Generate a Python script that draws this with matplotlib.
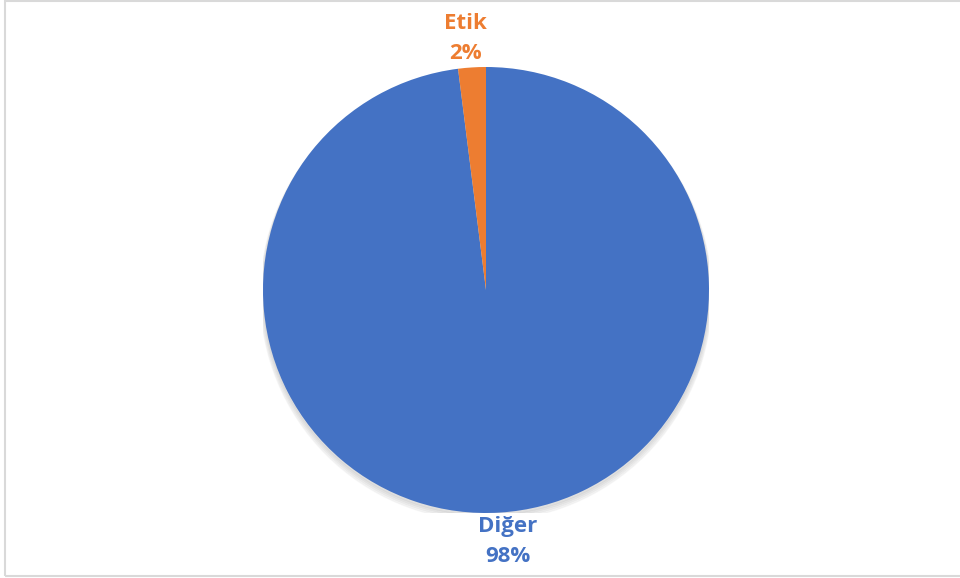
import matplotlib
matplotlib.use("Agg")
import matplotlib.pyplot as plt
from matplotlib.patches import Rectangle
import numpy as np

categories = ["Diğer", "Etik"]
values = [98, 2]
colors = ["#4472C4", "#ED7D31"]

W, H = 960, 578
fig = plt.figure(figsize=(W / 100, H / 100), dpi=100)
fig.patch.set_facecolor("white")

# border
fig.add_artist(Rectangle((5 / W, 2 / H), (W + 10) / W, (H - 3) / H, transform=fig.transFigure,
                         fill=False, edgecolor="#d9d9d9", linewidth=1.5))

cx, cy, r = 486, 290, 223
ax = fig.add_axes([(cx - r) / W, (H - cy - r) / H, 2 * r / W, 2 * r / H])
ax.set_xlim(-1, 1)
ax.set_ylim(-1, 1)
ax.set_aspect("equal")
ax.axis("off")

# subtle shadow
for i in range(4):
    sh = plt.Circle((0, -0.012 - 0.004 * i), 1.0 + 0.004 * i, color="black", alpha=0.03, zorder=0)
    ax.add_patch(sh)

wedges, _ = ax.pie(values, colors=colors, startangle=90, counterclock=False, radius=1.0,
                   wedgeprops=dict(linewidth=0), frame=False)
ax.set_xlim(-1, 1)
ax.set_ylim(-1, 1)

font = dict(family=["Open Sans", "DejaVu Sans"], fontweight="bold", fontsize=16)
label_pos = {"Etik": (-0.09, 1.128), "Diğer": (0.099, -1.128)}
for cat, val, col in zip(categories, values, colors):
    x, y = label_pos[cat]
    ax.text(x, y, f"{cat}\n{val}%", ha="center", va="center", color=col,
            linespacing=1.55, clip_on=False, **font)

fig.savefig("out.png", dpi=100)
